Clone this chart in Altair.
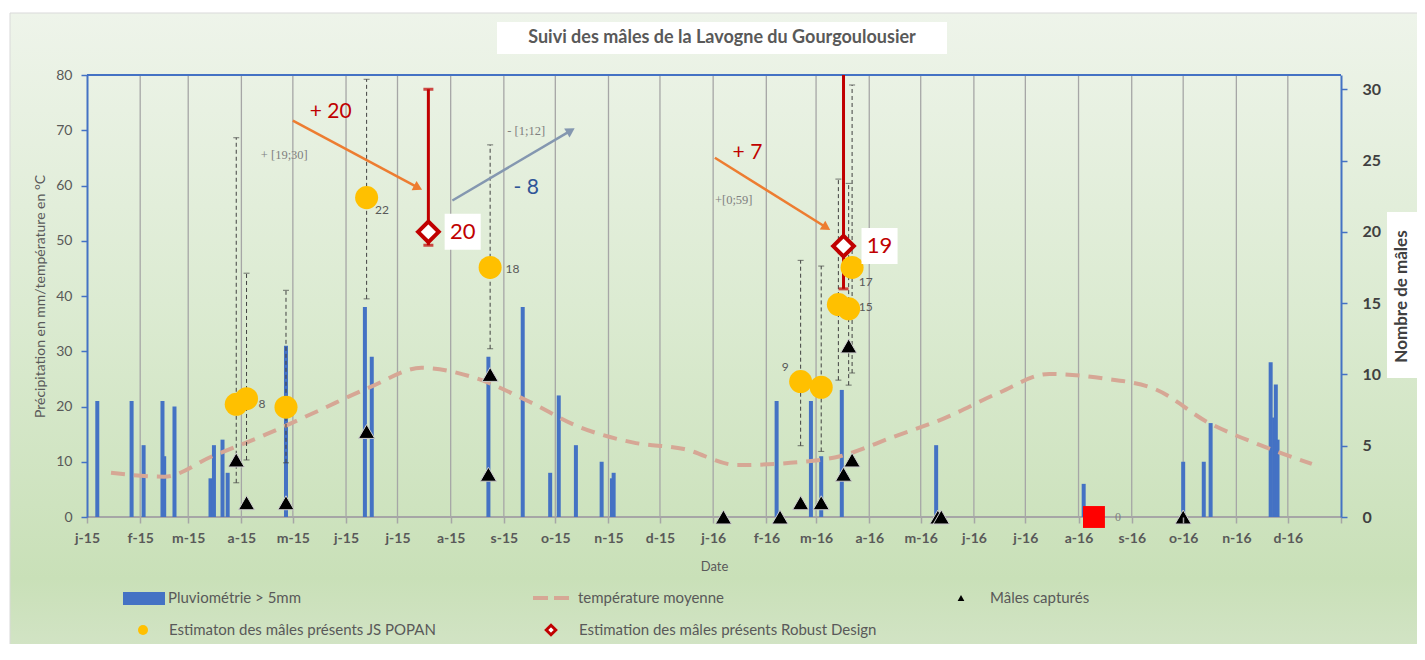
import json
import altair as alt
import pandas as pd

# ---------------- data ----------------
month_letters = ["j", "f", "m", "a", "m", "j", "j", "a", "s", "o", "n", "d"]

rain_dates = ["2015-01-07", "2015-01-27", "2015-02-03", "2015-02-14", "2015-02-15", "2015-02-21",
              "2015-03-14", "2015-03-16", "2015-03-21", "2015-03-24", "2015-04-27", "2015-06-12",
              "2015-06-16", "2015-08-23", "2015-09-12", "2015-09-28", "2015-10-03", "2015-10-13",
              "2015-10-28", "2015-11-03", "2015-11-04", "2016-02-07", "2016-02-27", "2016-03-04",
              "2016-03-16", "2016-05-10", "2016-08-04", "2016-10-01", "2016-10-13", "2016-10-17",
              "2016-11-21", "2016-11-23", "2016-11-24", "2016-11-25"]
rain_mm = [21, 21, 13, 21, 11, 20, 7, 13, 14, 8, 31, 38, 29, 29, 38, 8, 22, 13, 10, 7, 8,
           21, 21, 11, 23, 13, 6, 10, 10, 17, 28, 18, 24, 14]

temp_dates = ["2015-01-15", "2015-02-15", "2015-03-15", "2015-04-15", "2015-05-15", "2015-06-15",
              "2015-07-15", "2015-08-15", "2015-09-15", "2015-10-15", "2015-11-15", "2015-12-15",
              "2016-01-15", "2016-02-15", "2016-03-15", "2016-04-15", "2016-05-15", "2016-06-15",
              "2016-07-15", "2016-08-15", "2016-09-15", "2016-10-15", "2016-11-15", "2016-12-15"]
temp_c = [8.0, 7.3, 11.0, 14.9, 19.1, 23.5, 27.0, 25.2, 21.0, 16.3, 13.5, 12.3,
          9.4, 9.8, 11.0, 14.5, 17.9, 22.4, 25.9, 25.1, 23.1, 17.2, 13.0, 9.6]

capture_dates = ["2015-03-29", "2015-04-04", "2015-04-27", "2015-06-13", "2015-08-23", "2015-08-24",
                 "2016-01-07", "2016-02-09", "2016-02-21", "2016-03-04", "2016-03-17", "2016-03-20",
                 "2016-03-22", "2016-05-11", "2016-05-13", "2016-10-01"]
capture_n = [4, 1, 1, 6, 3, 10, 0, 0, 1, 1, 3, 12, 4, 0, 0, 0]

popan_dates = ["2015-03-29", "2015-04-04", "2015-04-27", "2015-06-13", "2015-08-24",
               "2016-02-21", "2016-03-04", "2016-03-14", "2016-03-20", "2016-03-22"]
popan_est = [7.9, 8.3, 7.7, 22.4, 17.5, 9.5, 9.1, 14.9, 14.6, 17.5]
popan_low = [2.4, 4.0, 3.8, 15.3, 11.8, 5.0, 4.6, 9.6, 9.25, 10.1]
popan_high = [26.6, 17.1, 15.9, 30.7, 26.1, 18.0, 17.6, 23.7, 23.4, 30.3]

popan_label_text = ["8", "22", "18", "9", "15", "17"]
popan_label_dates = ["2015-04-13", "2015-06-22", "2015-09-06", "2016-02-12", "2016-03-30", "2016-03-30"]
popan_label_vals = [7.9, 21.5, 17.4, 10.5, 14.7, 16.5]

rd_dates = ["2015-07-19", "2016-03-17"]
rd_est = [20, 19]
rd_low = [19.06, 16.0]
rd_high = [30, 40]
rd_label_text = ["20", "19"]
rd_label_dates = ["2015-08-08", "2016-04-07"]
rd_label_vals = [20.0, 19.0]

zero_dates = ["2016-08-10"]
zero_vals = [0]
zero_label_dates = ["2016-08-24"]
zero_label_text = ["0"]

red_note_text = ["+ 20", "+ 7"]
red_note_dates = ["2015-05-23", "2016-01-21"]
red_note_vals = [28.4, 25.5]
blue_note_text = ["- 8"]
blue_note_dates = ["2015-09-14"]
blue_note_vals = [23.1]
grey_note_text = ["+ [19;30]", "- [1;12]", "+[0;59]"]
grey_note_dates = ["2015-04-26", "2015-09-14", "2016-01-13"]
grey_note_vals = [25.4, 27.1, 22.2]

arrow_kind = ["gain", "loss", "gain"]
arrow_start_dates = ["2015-05-01", "2015-08-02", "2016-01-02"]
arrow_start_vals = [27.8, 22.2, 25.2]
arrow_end_dates = ["2015-07-13", "2015-10-10", "2016-03-07"]
arrow_end_vals = [23.1, 27.1, 20.3]
arrow_angles = [28, 329, 32]

title_text = "Suivi des mâles de la Lavogne du Gourgoulousier"
legend_labels = ["Pluviométrie > 5mm", "température moyenne", "Mâles capturés",
                 "Estimaton des mâles présents JS POPAN", "Estimation des mâles présents Robust Design"]

# ---------------- styles ----------------
W, H = 1254, 442
FONT = "Lato"
BLUE = "#4472C4"
TEMP = "#d6a795"
YELLOW = "#FFC000"
DARKRED = "#C00000"
GREY_TXT = "#595959"

month_ticks = [alt.DateTime(year=2015 + (i // 12), month=(i % 12) + 1, date=1, utc=True) for i in range(25)]
grid_months = [f"{2015 + (i // 12)}-{(i % 12) + 1:02d}-01" for i in range(1, 24)]

label_expr = ("utcyear(datum.value) > 2016 ? '' : " + json.dumps(month_letters)
              + "[utcmonth(datum.value)] + '-' + utcFormat(datum.value, '%y')")

X_SCALE = alt.Scale(type="utc", padding=0, nice=False,
                    domain=[alt.DateTime(year=2015, month=1, date=1, utc=True),
                            alt.DateTime(year=2017, month=1, date=1, utc=True)])
X_AXIS = alt.Axis(values=month_ticks, labelExpr=label_expr, title="Date", titleFont=FONT,
                  titleFontSize=13, titleFontWeight="normal", titleColor=GREY_TXT, titlePadding=15,
                  labelFont=FONT, labelFontSize=14, labelFontWeight="bold", labelColor=GREY_TXT,
                  labelPadding=8, labelOverlap=False, labelFlush=False, domain=False,
                  tickColor="#a6a6a6", tickWidth=1.5, tickSize=6, grid=False, zindex=1)
L_SCALE = alt.Scale(domain=[0, 80], nice=False, padding=0)
L_AXIS = alt.Axis(orient="left", values=list(range(0, 81, 10)),
                  title="Précipitation en mm/température en °C", titleFont=FONT, titleFontSize=14,
                  titleFontWeight="normal", titleColor=GREY_TXT, titlePadding=8, labelFont=FONT,
                  labelFontSize=14, labelColor=GREY_TXT, labelPadding=9, domainColor=BLUE,
                  domainWidth=2, tickColor=BLUE, tickWidth=1.5, tickSize=6, grid=False, zindex=1)
R_SCALE = alt.Scale(domain=[0, 31], nice=False, padding=0)
R_AXIS = alt.Axis(orient="right", values=list(range(0, 31, 5)), title="Nombre de mâles",
                  titleAngle=270, titleFont=FONT, titleFontSize=17, titleFontWeight="bold",
                  titleColor="#404040", titlePadding=30, labelFont=FONT, labelFontSize=16,
                  labelFontWeight="bold", labelColor="#404040", labelPadding=15, domainColor=BLUE,
                  domainWidth=2, tickColor=BLUE, tickWidth=1.5, tickSize=6, grid=False, zindex=1)


def xd(f):
    return alt.X(f"{f}:T", scale=X_SCALE, axis=X_AXIS)


def ly(f):
    return alt.Y(f"{f}:Q", scale=L_SCALE, axis=L_AXIS)


def ry(f):
    return alt.Y(f"{f}:Q", scale=R_SCALE, axis=R_AXIS)


one = pd.DataFrame({"t": [""]})

# ---------------- left (mm / °C) layers ----------------
bg = alt.Chart(one).mark_rect(
    fill={"gradient": "linear", "x1": 0, "y1": 0, "x2": 0, "y2": 1,
          "stops": [{"offset": 0, "color": "#eef4ea"}, {"offset": 0.45, "color": "#dcebd2"},
                    {"offset": 0.88, "color": "#c9e0b8"}, {"offset": 1, "color": "#d3e4c6"}]},
    stroke="#d9d9d9", strokeWidth=1
).encode(x=alt.value(-77), x2=alt.value(1340), y=alt.value(-62), y2=alt.value(580))

title_box = alt.Chart(one).mark_rect(color="white").encode(
    x=alt.value(410), x2=alt.value(860), y=alt.value(-53), y2=alt.value(-21))
title_mark = alt.Chart(pd.DataFrame({"t": [title_text]})).mark_text(
    font=FONT, fontSize=18, fontWeight="bold", color=GREY_TXT, align="center", baseline="middle"
).encode(x=alt.value(635), y=alt.value(-37), text="t:N")
ytitle_box = alt.Chart(one).mark_rect(color="white").encode(
    x=alt.value(1300), x2=alt.value(1330), y=alt.value(137), y2=alt.value(303))
top_line = alt.Chart(one).mark_rule(color=BLUE, strokeWidth=2).encode(
    x=alt.value(0), x2=alt.value(W), y=alt.value(0))
bottom_line = alt.Chart(one).mark_rule(color="#a6a6a6", strokeWidth=2).encode(
    x=alt.value(0), x2=alt.value(W), y=alt.value(H))

grid = alt.Chart(pd.DataFrame({"m": grid_months})).mark_rule(
    color="#a6a6a6", strokeWidth=1.3).encode(x=xd("m"))

bars = alt.Chart(pd.DataFrame({"date": rain_dates, "mm": rain_mm})).mark_bar(
    size=4, color=BLUE).encode(x=xd("date"), y=ly("mm"))

temp = alt.Chart(pd.DataFrame({"date": temp_dates, "temp": temp_c})).mark_line(
    color=TEMP, strokeWidth=4, strokeDash=[14, 9], interpolate="monotone").encode(
    x=xd("date"), y=ly("temp"))

left = alt.layer(bg, title_box, title_mark, ytitle_box, grid, top_line, bottom_line, bars, temp)

# ---------------- right (number of males) layers ----------------
popan = pd.DataFrame({"date": popan_dates, "est": popan_est, "low": popan_low, "high": popan_high})
popan_err = alt.Chart(popan).mark_rule(color="#404040", strokeWidth=1, strokeDash=[4, 3]).encode(
    x=xd("date"), y=ry("low"), y2="high")
popan_cap_lo = alt.Chart(popan).mark_tick(orient="horizontal", size=6, thickness=1,
                                          color="#404040").encode(x=xd("date"), y=ry("low"))
popan_cap_hi = alt.Chart(popan).mark_tick(orient="horizontal", size=6, thickness=1,
                                          color="#404040").encode(x=xd("date"), y=ry("high"))

rd = pd.DataFrame({"date": rd_dates, "est": rd_est, "low": rd_low, "high": rd_high})
rd_err = alt.Chart(rd).mark_rule(color=DARKRED, strokeWidth=3, clip=True).encode(
    x=xd("date"), y=ry("low"), y2="high")
rd_cap_lo = alt.Chart(rd).mark_tick(orient="horizontal", size=10, thickness=3, color=DARKRED,
                                    clip=True).encode(x=xd("date"), y=ry("low"))
rd_cap_hi = alt.Chart(rd).mark_tick(orient="horizontal", size=10, thickness=3, color=DARKRED,
                                    clip=True).encode(x=xd("date"), y=ry("high"))

captures = alt.Chart(pd.DataFrame({"date": capture_dates, "n": capture_n})).mark_point(
    shape="triangle-up", filled=True, size=260, color="black", stroke="#cfcfcf", strokeWidth=1,
    opacity=1).encode(x=xd("date"), y=ry("n"))

popan_pts = alt.Chart(popan).mark_circle(size=530, color=YELLOW, opacity=1).encode(
    x=xd("date"), y=ry("est"))

rd_pts = alt.Chart(rd).mark_point(shape="diamond", size=430, filled=False, fill="white",
                                  fillOpacity=1, stroke=DARKRED, strokeWidth=4, opacity=1).encode(
    x=xd("date"), y=ry("est"))

zero_sq = alt.Chart(pd.DataFrame({"date": zero_dates, "v": zero_vals})).mark_square(
    size=480, color="#FF0000", opacity=1).encode(x=xd("date"), y=ry("v"))
zero_lbl = alt.Chart(pd.DataFrame({"date": zero_label_dates, "v": zero_vals, "t": zero_label_text})
                     ).mark_text(font="Liberation Serif", fontSize=12, color="#7f7f7f").encode(
    x=xd("date"), y=ry("v"), text="t:N")

popan_lbl = alt.Chart(pd.DataFrame({"date": popan_label_dates, "v": popan_label_vals,
                                    "t": popan_label_text})).mark_text(
    font=FONT, fontSize=12, color=GREY_TXT).encode(x=xd("date"), y=ry("v"), text="t:N")

rd_lbl_df = pd.DataFrame({"date": rd_label_dates, "v": rd_label_vals, "t": rd_label_text})
rd_box = alt.Chart(rd_lbl_df).mark_square(size=1300, color="white", opacity=1).encode(
    x=xd("date"), y=ry("v"))
rd_lbl = alt.Chart(rd_lbl_df).mark_text(font=FONT, fontSize=22, color=DARKRED).encode(
    x=xd("date"), y=ry("v"), text="t:N")

arrows = pd.DataFrame({"kind": arrow_kind, "d0": arrow_start_dates, "v0": arrow_start_vals,
                       "d1": arrow_end_dates, "v1": arrow_end_vals, "ang": arrow_angles})
ARROW_COLOR = alt.Color("kind:N", scale=alt.Scale(domain=["gain", "loss"],
                                                  range=["#ED7D31", "#8497B0"]), legend=None)
arrow_lines = alt.Chart(arrows).mark_rule(strokeWidth=2.5).encode(
    x=xd("d0"), x2="d1", y=ry("v0"), y2="v1", color=ARROW_COLOR)
arrow_heads = alt.Chart(arrows).mark_point(shape="triangle-right", filled=True, size=110,
                                           opacity=1).encode(
    x=xd("d1"), y=ry("v1"), angle=alt.Angle("ang:Q", scale=None), color=ARROW_COLOR)

red_notes = alt.Chart(pd.DataFrame({"date": red_note_dates, "v": red_note_vals, "t": red_note_text})
                      ).mark_text(font=FONT, fontSize=21, color=DARKRED).encode(
    x=xd("date"), y=ry("v"), text="t:N")
blue_notes = alt.Chart(pd.DataFrame({"date": blue_note_dates, "v": blue_note_vals,
                                     "t": blue_note_text})).mark_text(
    font=FONT, fontSize=21, color="#2F5597").encode(x=xd("date"), y=ry("v"), text="t:N")
grey_notes = alt.Chart(pd.DataFrame({"date": grey_note_dates, "v": grey_note_vals,
                                     "t": grey_note_text})).mark_text(
    font="Liberation Serif", fontSize=12.5, color="#7f7f7f").encode(x=xd("date"), y=ry("v"), text="t:N")

# ---------------- legend (drawn below the plot) ----------------
leg_rain = alt.Chart(one).mark_rect(color=BLUE).encode(
    x=alt.value(36), x2=alt.value(78), y=alt.value(517), y2=alt.value(530))
leg_temp = alt.Chart(one).mark_rule(color=TEMP, strokeWidth=4, strokeDash=[15, 6]).encode(
    x=alt.value(446), x2=alt.value(487), y=alt.value(523))
leg_cap = alt.Chart(one).mark_point(shape="triangle-up", filled=True, size=45, color="black",
                                    opacity=1).encode(x=alt.value(874), y=alt.value(523))
leg_popan = alt.Chart(one).mark_circle(size=100, color=YELLOW, opacity=1).encode(
    x=alt.value(56), y=alt.value(555))
leg_rd = alt.Chart(one).mark_point(shape="diamond", size=90, filled=False, fill="white",
                                   fillOpacity=1, stroke=DARKRED, strokeWidth=3, opacity=1).encode(
    x=alt.value(464), y=alt.value(555))
leg_pos = [(81, 523), (491, 523), (903, 523), (82, 555), (492, 555)]
leg_texts = [
    alt.Chart(pd.DataFrame({"t": [lab]})).mark_text(
        font=FONT, fontSize=15, color=GREY_TXT, align="left", baseline="middle").encode(
        x=alt.value(px), y=alt.value(py), text="t:N")
    for lab, (px, py) in zip(legend_labels, leg_pos)
]

right = alt.layer(popan_err, popan_cap_lo, popan_cap_hi, rd_err, rd_cap_lo, rd_cap_hi,
                  captures, popan_pts, rd_pts, zero_sq, zero_lbl, popan_lbl, rd_box, rd_lbl,
                  arrow_lines, arrow_heads, red_notes, blue_notes, grey_notes,
                  leg_rain, leg_temp, leg_cap, leg_popan, leg_rd, *leg_texts)

chart = alt.layer(left, right).resolve_scale(y="independent").properties(
    width=W, height=H,
    padding={"left": 79, "top": 67, "right": 76, "bottom": 127},
    autosize=alt.AutoSizeParams(type="none"),
).configure_view(stroke=None)

chart.save("out.html", embed_options={"renderer": "svg", "actions": False})
